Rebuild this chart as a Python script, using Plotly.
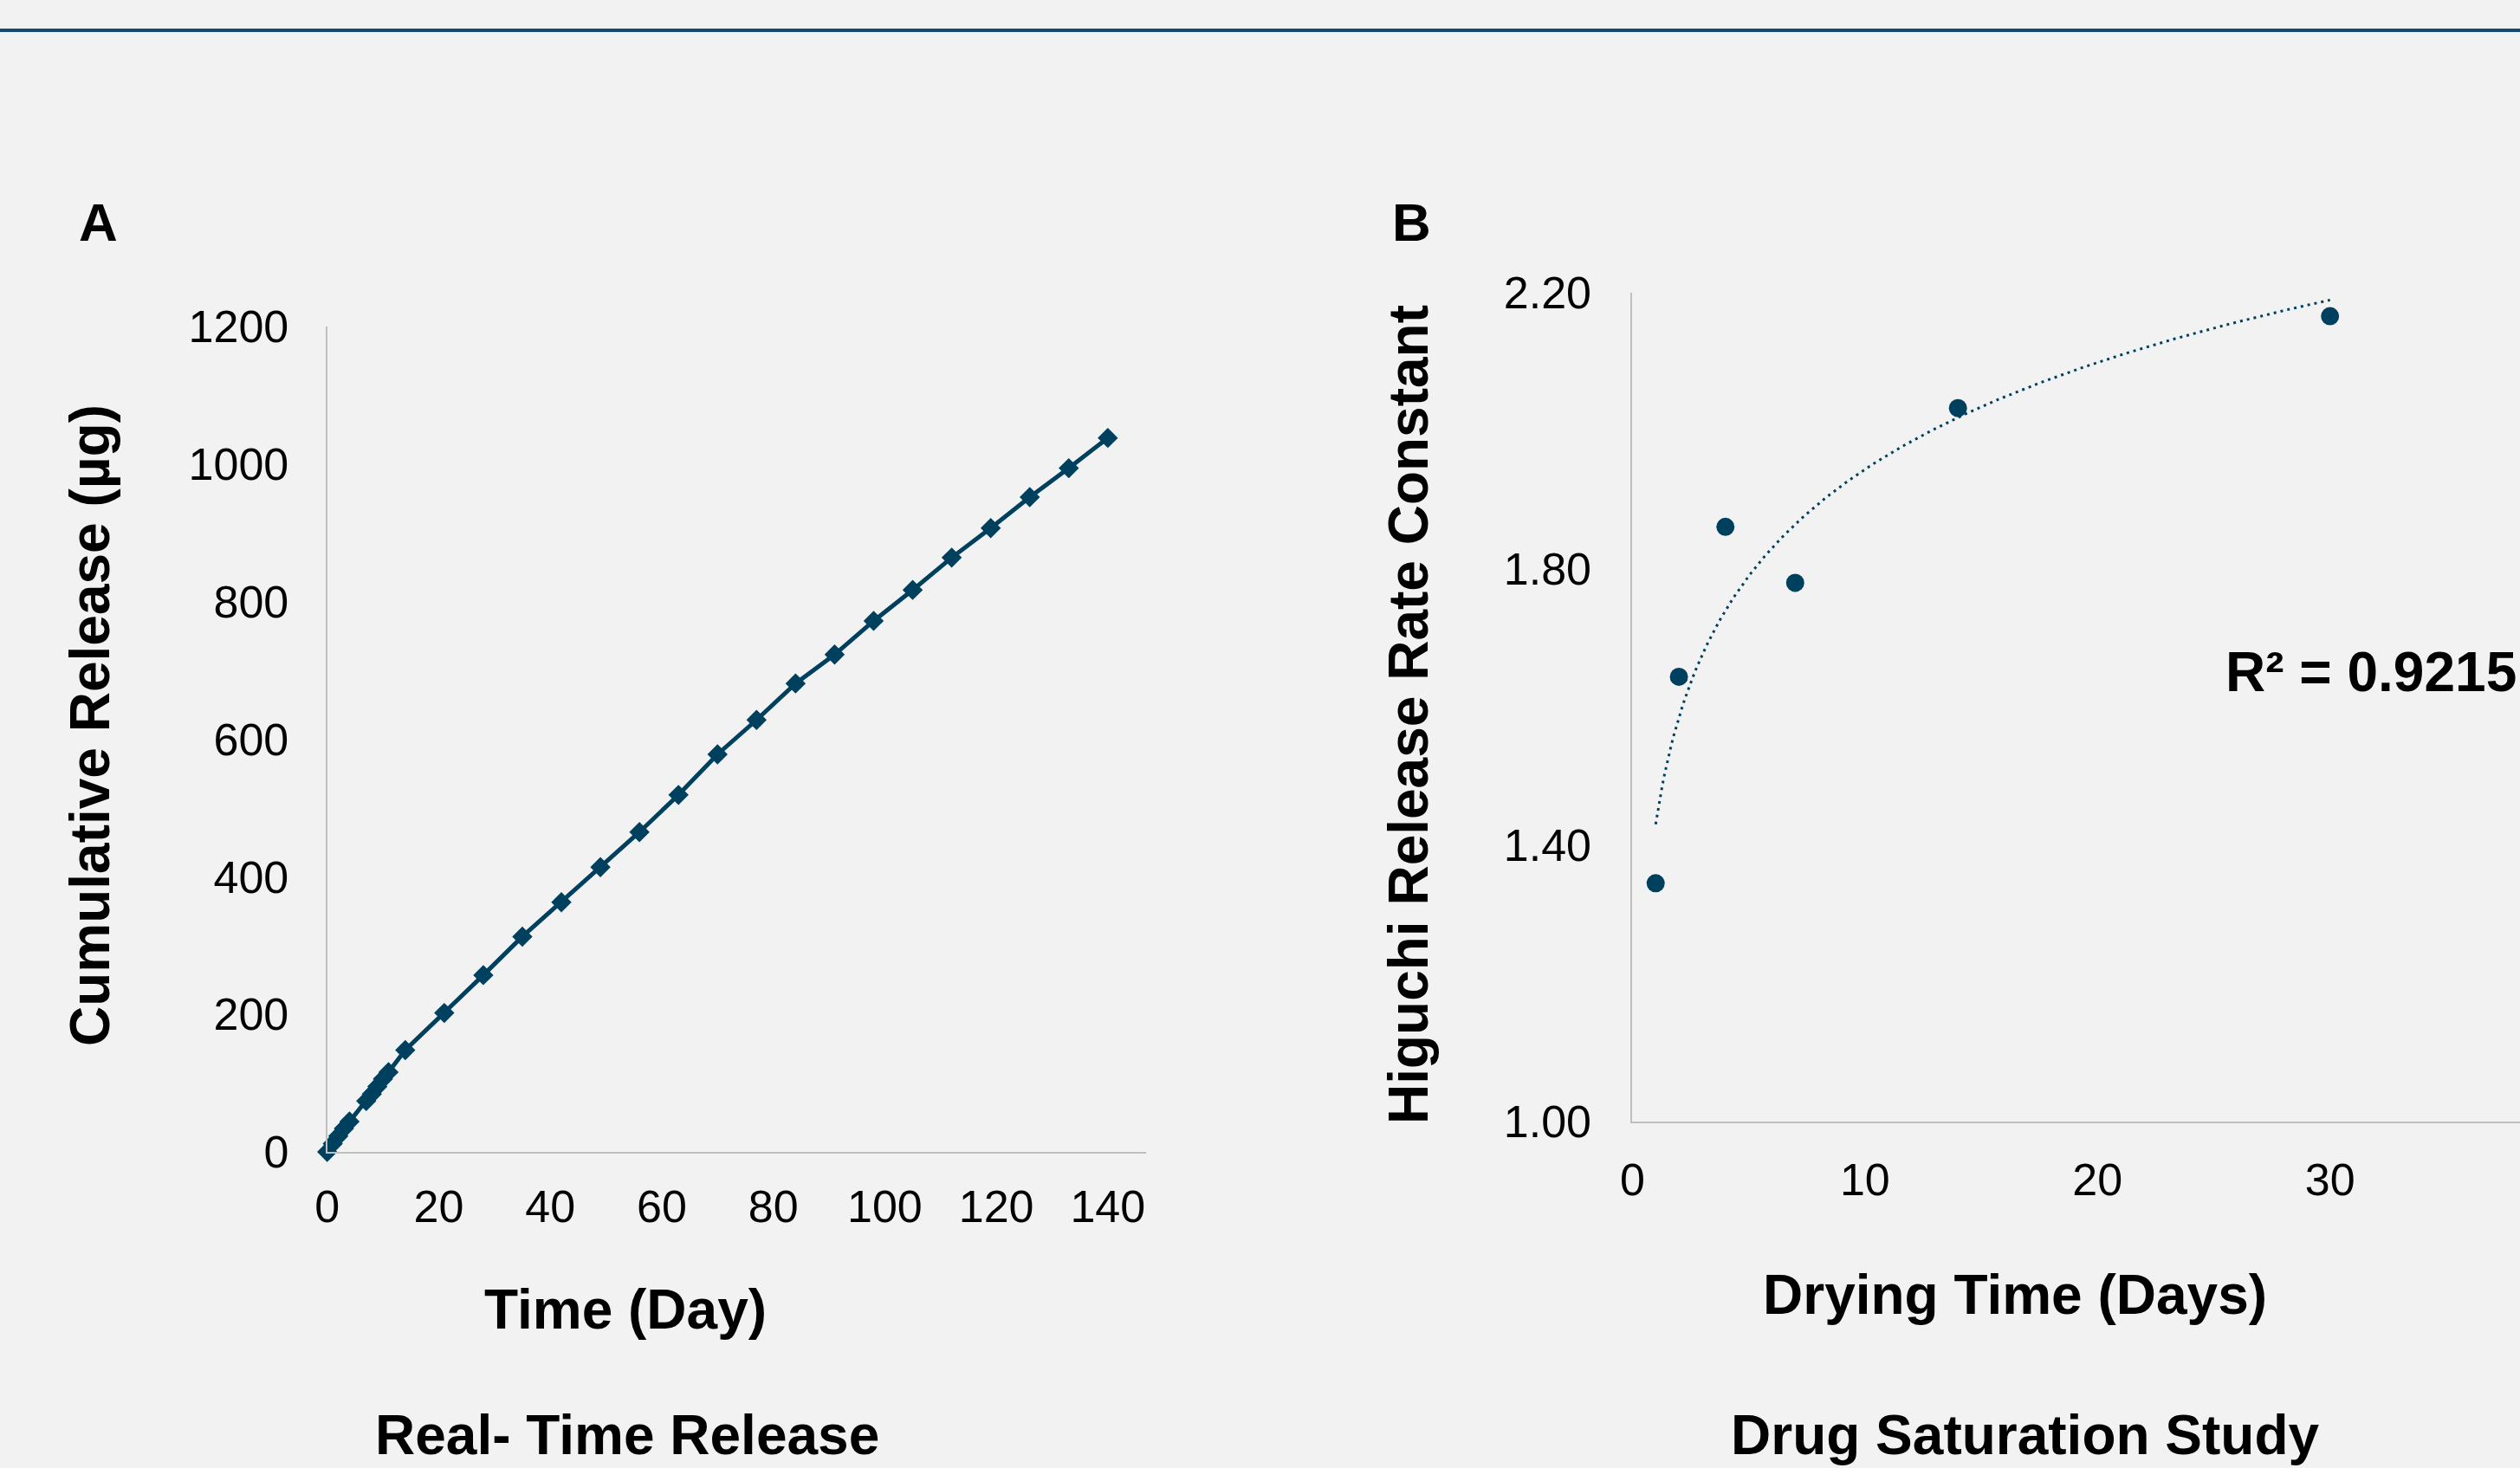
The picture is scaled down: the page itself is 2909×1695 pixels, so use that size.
import numpy as np
import plotly.graph_objects as go

# ---------------- data ----------------
# Panel A: real-time cumulative release
release_days = [0, 1, 2, 3, 4, 7, 8, 9, 10, 11, 14, 21, 28, 35, 42, 49, 56, 63, 70,
                77, 84, 91, 98, 105, 112, 119, 126, 133, 140]
cumulative_release = [0, 12, 23, 34, 44, 74, 84, 95, 106, 116, 148, 202, 257, 313, 363,
                      414, 465, 519, 578, 628, 681, 723, 772, 817, 864, 907, 952, 994, 1038]

# Panel B: drug saturation study
drying_days = [1, 2, 4, 7, 14, 30]
higuchi_k = [1.345, 1.644, 1.861, 1.780, 2.033, 2.166]
r2_label = "R² = 0.9215"

a_yticks = [0, 200, 400, 600, 800, 1000, 1200]
a_xticks = [0, 20, 40, 60, 80, 100, 120, 140]
b_yticks = [1.00, 1.40, 1.80, 2.20]
b_xticks = [0, 10, 20, 30]

# ---------------- style ----------------
W, H = 2909, 1695
BG = "#f2f2f2"
NAVY = "#00405f"
AXIS = "#bfbfbf"
FONT = "Liberation Sans, Arial, sans-serif"


def px(x):
    return x / W


def py(y):
    return 1 - y / H


# logarithmic trendline (least squares on ln x), as in the spreadsheet chart
b_coef, a_coef = np.polyfit(np.log(drying_days), higuchi_k, 1)
trend_x = np.linspace(min(drying_days), max(drying_days), 300)
trend_y = a_coef + b_coef * np.log(trend_x)

fig = go.Figure()

fig.add_trace(go.Scatter(
    x=release_days, y=cumulative_release, mode="lines+markers",
    line=dict(color=NAVY, width=5),
    marker=dict(symbol="diamond", size=18, color=NAVY),
    xaxis="x", yaxis="y", cliponaxis=False, showlegend=False))

fig.add_trace(go.Scatter(
    x=trend_x, y=trend_y, mode="lines",
    line=dict(color=NAVY, width=3, dash="3px,5px"),
    xaxis="x2", yaxis="y2", showlegend=False, hoverinfo="skip"))

fig.add_trace(go.Scatter(
    x=drying_days, y=higuchi_k, mode="markers",
    marker=dict(symbol="circle", size=21, color=NAVY),
    xaxis="x2", yaxis="y2", cliponaxis=False, showlegend=False))

tickfont = dict(family=FONT, size=52, color="#000000")
common = dict(showgrid=False, zeroline=False, showline=True, linecolor=AXIS,
              linewidth=2, ticks="outside", tickcolor="rgba(0,0,0,0)",
              tickfont=tickfont)

fig.update_layout(
    width=W, height=H,
    paper_bgcolor=BG, plot_bgcolor=BG,
    margin=dict(l=0, r=0, t=0, b=0, autoexpand=False),
    showlegend=False,
    xaxis=dict(domain=[px(377.7), px(1322.6)], range=[0, 146.8],
               tickvals=a_xticks, ticklen=17, anchor="y", **common),
    yaxis=dict(domain=[py(1330), py(377)], range=[0, 1200],
               tickvals=a_yticks, ticklen=32, anchor="x", **common),
    xaxis2=dict(domain=[px(1884.4), 1.0], range=[0, 38.17],
                tickvals=b_xticks, ticklen=21, anchor="y2", **common),
    yaxis2=dict(domain=[py(1295), py(338)], range=[1.0, 2.2],
                tickvals=b_yticks, tickformat=".2f", ticklen=35, anchor="x2", **common),
)

fig.add_shape(type="line", xref="paper", yref="paper", x0=0, x1=1,
              y0=py(35), y1=py(35), line=dict(color="#154a70", width=4))

title_font = dict(family=FONT, size=64, color="#000000")
letter_font = dict(family=FONT, size=62, color="#000000")


def ann(text, x, y, font, angle=0, xanchor="center", yanchor="middle"):
    fig.add_annotation(text=text, x=px(x), y=py(y), xref="paper", yref="paper",
                       showarrow=False, font=font, textangle=angle,
                       xanchor=xanchor, yanchor=yanchor)


ann("<b>A</b>", 113, 256, letter_font)
ann("<b>B</b>", 1629, 256, letter_font)
ann("<b>Cumulative Release (µg)</b>", 104, 838, title_font, angle=-90)
ann("<b>Time (Day)</b>", 722, 1512, title_font)
ann("<b>Real- Time Release</b>", 724, 1695, title_font, yanchor="bottom")
ann("<b>Higuchi Release Rate Constant</b>", 1626, 825, title_font, angle=-90)
ann("<b>Drying Time (Days)</b>", 2326, 1495, title_font)
ann("<b>Drug Saturation Study</b>", 2338, 1695, title_font, yanchor="bottom")
ann("<b>" + r2_label + "</b>", 2907, 776, title_font, xanchor="right")

fig.write_html(
    "out.html",
    config={"displayModeBar": False},
    post_script="document.body.style.margin='0';document.body.style.overflow='hidden';")
